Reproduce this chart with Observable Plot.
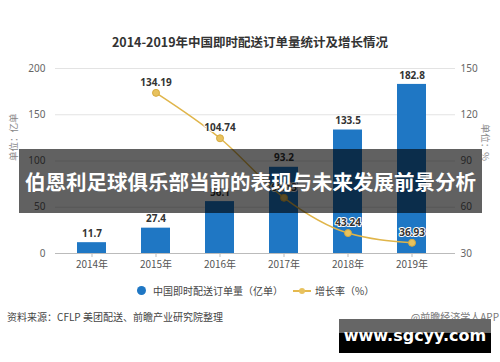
<!DOCTYPE html>
<html><head><meta charset="utf-8">
<script src="https://cdn.jsdelivr.net/npm/d3@7"></script>
<script src="https://cdn.jsdelivr.net/npm/@observablehq/plot@0.6"></script>
<style>
body{margin:0;background:#fff;}
#wrap{position:relative;width:500px;height:362px;overflow:hidden;background:#fff;font-family:"Noto Sans","Noto Sans CJK SC",sans-serif;}
.abs{position:absolute;white-space:nowrap;}
#title{left:0;width:500px;top:33px;text-align:center;font-size:12.5px;font-weight:bold;color:#333;line-height:18px;font-family:"Noto Sans CJK SC",sans-serif;}
#chart{left:0;top:55px;}
.leg{font-size:10px;color:#444;line-height:14px;top:284px;font-family:"Noto Sans CJK SC",sans-serif;}
#src{left:7px;top:310px;font-size:10px;color:#444;line-height:14px;font-family:"Noto Sans CJK SC",sans-serif;}
#app{right:1px;top:310px;font-size:10px;color:#777;line-height:14px;font-family:"Noto Sans CJK SC",sans-serif;}
#banner{left:19px;top:149px;width:463px;height:64px;background:rgba(0,0,0,0.62);color:#fff;font-size:20.5px;font-weight:bold;line-height:64px;text-align:center;font-family:"Noto Sans CJK SC",sans-serif;}
#wm{left:339px;top:319px;width:152px;height:34px;background:linear-gradient(#666 0,#666 14px,#000 14px,#000 100%);color:#fff;font-weight:bold;font-size:16px;line-height:34px;text-align:center;font-family:"DejaVu Sans",sans-serif;}
</style></head>
<body><div id="wrap">
<div id="title" class="abs">2014-2019年中国即时配送订单量统计及增长情况</div>
<div id="chart" class="abs"></div>
<div class="abs leg" style="left:137px;top:286px;width:9px;height:9px;border-radius:50%;background:#1f77c4;"></div>
<div class="abs leg" style="left:153px;">中国即时配送订单量（亿单）</div>
<div class="abs" style="left:293px;top:290px;width:18px;height:1.5px;background:#e5b94f;"></div>
<div class="abs" style="left:299px;top:288px;width:6px;height:6px;border-radius:50%;background:#e8c25e;"></div>
<div class="abs leg" style="left:315px;">增长率（%）</div>
<div id="src" class="abs">资料来源：CFLP 美团配送、前瞻产业研究院整理</div>
<div id="app" class="abs">@前瞻经济学人APP</div>
<div id="banner" class="abs">伯恩利足球俱乐部当前的表现与未来发展前景分析</div>
<div id="wm" class="abs">www.sgcyy.com</div>
</div>
<script>
const years = ["2014年","2015年","2016年","2017年","2018年","2019年"];
const orders = [11.7, 27.4, 56.1, 93.2, 133.5, 182.8];
const growth = [null, 134.19, 104.74, 66.13, 43.24, 36.93];
const leftTicks = [0, 50, 100, 150, 200];
const rightTicks = [30, 60, 90, 120, 150];
const rightMin = 30, rightMax = 150, leftMax = 200;

const toLeft = g => (g - rightMin) / (rightMax - rightMin) * leftMax;
const fromLeft = v => v / leftMax * (rightMax - rightMin) + rightMin;

const barData = years.map((y, i) => ({year: y, value: orders[i]}));
const lineData = years.map((y, i) => ({year: y, g: growth[i]})).filter(d => d.g != null);

const font = "Noto Sans, Noto Sans CJK SC, sans-serif";
const chart = Plot.plot({
  width: 500, height: 220,
  marginTop: 13, marginBottom: 22, marginLeft: 55, marginRight: 45,
  style: {fontFamily: font, fontSize: "10px", background: "transparent"},
  x: {domain: years, range: [56.6, 445.4], paddingInner: 0.55, paddingOuter: 0.275, label: null},
  y: {domain: [0, leftMax], label: null},
  marks: [
    Plot.ruleY(leftTicks.slice(1), {stroke: "#e3e3e3"}),
    Plot.axisY(leftTicks, {anchor: "left", tickSize: 0, tickPadding: 10, fill: "#666", fontSize: 10, label: null}),
    Plot.axisY(rightTicks.map(toLeft), {anchor: "right", tickSize: 0, tickPadding: 5, fill: "#666", fontSize: 10, tickFormat: d => String(Math.round(fromLeft(d))), label: null}),
    Plot.text(["单位：亿单"], {frameAnchor: "left", dx: -42, rotate: -90, fill: "#888", fontSize: 9.5, fontFamily: "Noto Sans CJK SC"}),
    Plot.text(["单位：%"], {frameAnchor: "right", dx: 30, rotate: 90, fill: "#888", fontSize: 9.5, fontFamily: "Noto Sans CJK SC"}),
    Plot.barY(barData, {x: "year", y: "value", fill: "#1f77c4"}),
    Plot.ruleY([0], {stroke: "#bbb"}),
    Plot.axisX({tickSize: 4, tickPadding: 3, stroke: "#bbb", fill: "#555", fontSize: 10, fontFamily: "Noto Sans CJK SC", label: null}),
    Plot.text(barData, {x: "year", y: "value", text: d => String(d.value), dy: -9, fontWeight: "bold", fill: "#333", fontSize: 10}),
    Plot.lineY(lineData, {x: "year", y: d => toLeft(d.g), stroke: "#e0b54a", strokeWidth: 1.5, curve: "monotone-x"}),
    Plot.dot(lineData, {x: "year", y: d => toLeft(d.g), r: 3.5, fill: "#e8c25e", stroke: "#d6aa3e", strokeWidth: 1}),
    Plot.text(lineData, {x: "year", y: d => toLeft(d.g), text: d => d.g.toFixed(2), dy: -10, fontWeight: "bold", fill: "#333", stroke: "white", strokeWidth: 2, fontSize: 10})
  ]
});
document.getElementById("chart").appendChild(chart);
</script>
</body></html>
